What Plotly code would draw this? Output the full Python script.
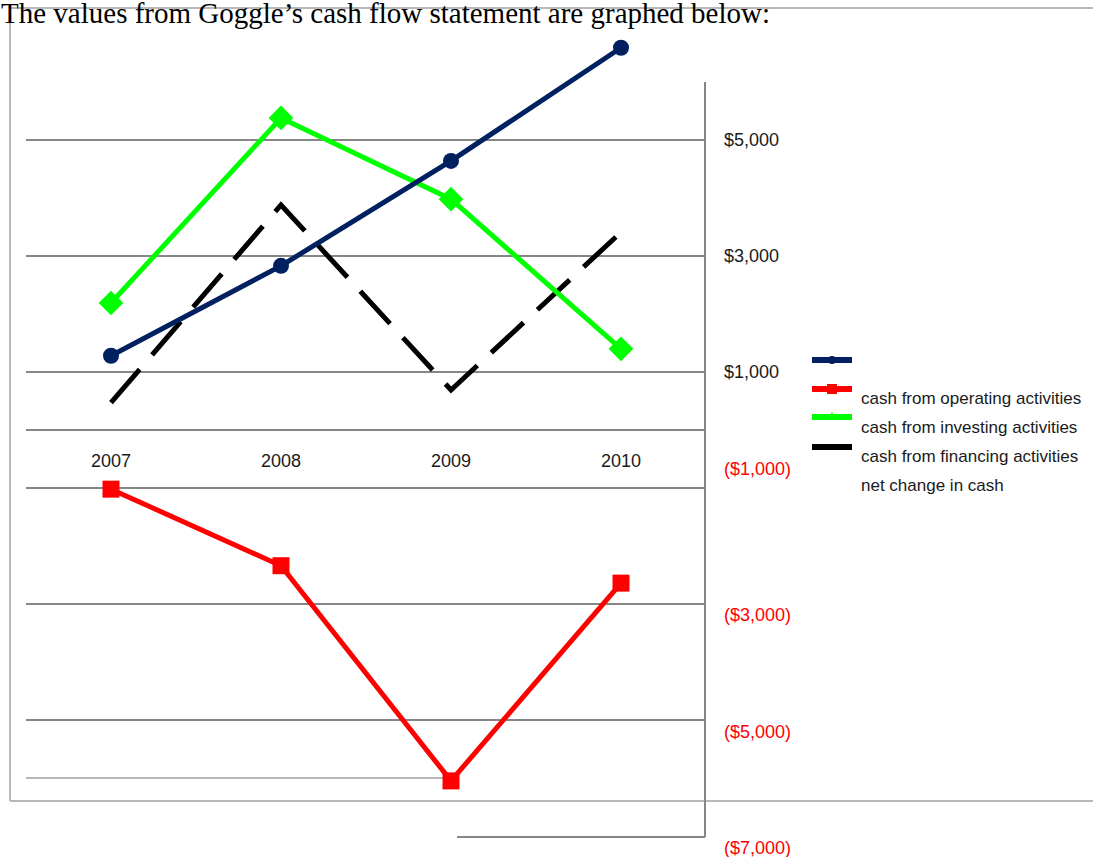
import plotly.graph_objects as go

# ---------------- data ----------------
years = ["2007", "2008", "2009", "2010"]
series_names = ["", "cash from operating activities", "cash from investing activities",
                "cash from financing activities"]
extra_legend_label = "net change in cash"
blue_values = [1280, 2830, 4640, 6590]
red_values = [-1020, -2340, -6050, -2640]
green_values = [2190, 5380, 3980, 1400]
black_values = [470, 3880, 690, 3410]
grid_values = [5000, 3000, 1000, 0, -1000, -3000, -5000]
extra_grid_value = -6000
tick_labels = ["$5,000", "$3,000", "$1,000", "($1,000)", "($3,000)", "($5,000)", "($7,000)"]
title_text = "The values from Goggle\u2019s cash flow statement are graphed below:"

W, H = 1093, 857
X_RANGE = [-111 / 170, (W - 111) / 170]
Y_RANGE = [(430 - H) / 0.058, 430 / 0.058]

def px(p):
    return p / W

def py(q):
    return 1 - q / H

xs = list(range(len(years)))
fig = go.Figure()

GRID = "#868686"
FRAME = "#b8b8b8"

shapes = []
# outer frame
shapes.append(dict(type="line", xref="paper", yref="paper", x0=px(10), x1=px(10), y0=py(8), y1=py(801),
                   line=dict(color=FRAME, width=2)))
shapes.append(dict(type="line", xref="paper", yref="paper", x0=px(10), x1=px(W), y0=py(8), y1=py(8),
                   line=dict(color=FRAME, width=2)))
shapes.append(dict(type="line", xref="paper", yref="paper", x0=px(10), x1=px(W), y0=py(801), y1=py(801),
                   line=dict(color=FRAME, width=2)))
# gridlines
for g in grid_values:
    shapes.append(dict(type="line", xref="paper", yref="y", x0=px(26), x1=px(705), y0=g, y1=g,
                       line=dict(color=GRID, width=2), layer="below"))
shapes.append(dict(type="line", xref="paper", yref="y", x0=px(26), x1=px(445),
                   y0=extra_grid_value, y1=extra_grid_value,
                   line=dict(color=FRAME, width=2), layer="below"))
# vertical value axis and bottom stub
shapes.append(dict(type="line", xref="paper", yref="paper", x0=px(705), x1=px(705), y0=py(82), y1=py(837),
                   line=dict(color=GRID, width=2)))
shapes.append(dict(type="line", xref="paper", yref="paper", x0=px(457), x1=px(705), y0=py(837), y1=py(837),
                   line=dict(color=GRID, width=2)))

# data series
fig.add_trace(go.Scatter(x=xs, y=black_values, mode="lines", name=series_names[3],
                         line=dict(color="#000000", width=5, dash="44px,19px"), showlegend=False))
fig.add_trace(go.Scatter(x=xs, y=red_values, mode="lines+markers", name=series_names[1],
                         line=dict(color="#ff0000", width=5),
                         marker=dict(symbol="square", size=17, color="#ff0000"), showlegend=False))
fig.add_trace(go.Scatter(x=xs, y=green_values, mode="lines+markers", name=series_names[2],
                         line=dict(color="#00ff00", width=5),
                         marker=dict(symbol="diamond", size=19, color="#00ff00"), showlegend=False))
fig.add_trace(go.Scatter(x=xs, y=blue_values, mode="lines+markers", name=series_names[0],
                         line=dict(color="#00205f", width=5),
                         marker=dict(symbol="circle", size=16, color="#00205f"), showlegend=False))

annotations = []
# title
annotations.append(dict(text=title_text, xref="paper", yref="paper", x=px(-1), y=py(-5),
                        xanchor="left", yanchor="top", showarrow=False,
                        font=dict(family="Liberation Serif, Times New Roman, serif", size=29, color="#000")))
# category labels
for i, yr in enumerate(years):
    annotations.append(dict(text=yr, xref="x", yref="paper", x=xs[i], y=py(461), xanchor="center",
                            yanchor="middle", showarrow=False,
                            font=dict(family="Liberation Sans, Arial, sans-serif", size=18, color="#1a1a1a")))
# value labels
label_rows = [140, 256, 372, 469, 615, 732, 848]
for lab, row in zip(tick_labels, label_rows):
    col = "#ff0000" if lab.startswith("(") else "#1a1a1a"
    annotations.append(dict(text=lab, xref="paper", yref="paper", x=px(722), y=py(row), xanchor="left",
                            yanchor="middle", showarrow=False,
                            font=dict(family="Liberation Sans, Arial, sans-serif", size=18, color=col)))

# legend (drawn by hand to reproduce the shifted labels)
leg_colors = ["#00205f", "#ff0000", "#00ff00", "#000000"]
leg_rows = [360, 389, 417, 447]
for c, r in zip(leg_colors, leg_rows):
    shapes.append(dict(type="line", xref="paper", yref="paper", x0=px(812), x1=px(852), y0=py(r), y1=py(r),
                       line=dict(color=c, width=6)))
# legend marker glyphs
shapes.append(dict(type="circle", xref="paper", yref="paper", x0=px(828), x1=px(836), y0=py(356), y1=py(364),
                   fillcolor=leg_colors[0], line=dict(width=0)))
shapes.append(dict(type="rect", xref="paper", yref="paper", x0=px(827), x1=px(837), y0=py(384), y1=py(394),
                   fillcolor=leg_colors[1], line=dict(width=0)))
shapes.append(dict(type="path", xref="paper", yref="paper",
                   path=f"M {px(828)} {py(418)} L {px(836)} {py(418)} L {px(832)} {py(412)} Z",
                   fillcolor=leg_colors[2], line=dict(width=0)))
leg_labels = series_names[1:] + [extra_legend_label]
label_rows2 = [398, 427, 456, 485]
for lab, r in zip(leg_labels, label_rows2):
    annotations.append(dict(text=lab, xref="paper", yref="paper", x=px(859), y=py(r), xanchor="left",
                            yanchor="middle", showarrow=False,
                            font=dict(family="Liberation Sans, Arial, sans-serif", size=17, color="#1a1a1a")))

fig.update_layout(
    width=W, height=H, margin=dict(l=0, r=0, t=0, b=0),
    paper_bgcolor="white", plot_bgcolor="white",
    xaxis=dict(range=X_RANGE, visible=False, fixedrange=True),
    yaxis=dict(range=Y_RANGE, visible=False, fixedrange=True),
    shapes=shapes, annotations=annotations, showlegend=False,
)
fig.write_html("out.html", config={"displayModeBar": False})
